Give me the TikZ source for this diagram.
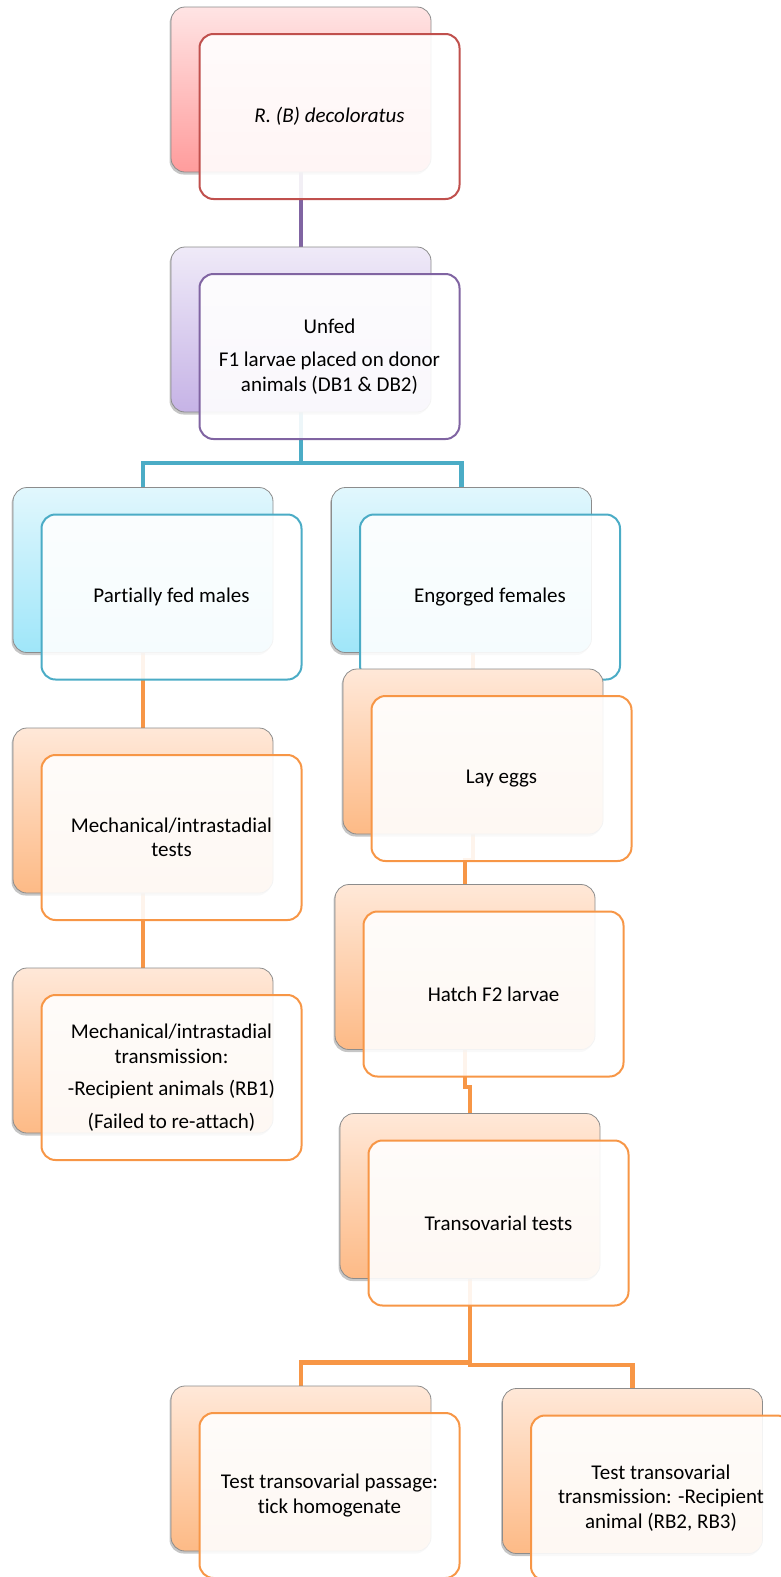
\documentclass[tikz,border=0pt]{standalone}
\usepackage{fontspec}
\setmainfont{Carlito}[Ligatures=NoCommon]
\usetikzlibrary{shadows,positioning,backgrounds}
\definecolor{redline}{HTML}{C0504D}
\definecolor{purpleline}{HTML}{8064A2}
\definecolor{tealline}{HTML}{4BACC6}
\definecolor{orangeline}{HTML}{F79646}
\definecolor{redtop}{HTML}{FFE4E4}
\definecolor{redbot}{HTML}{FF9C9C}
\definecolor{purpletop}{HTML}{EFEAF8}
\definecolor{purplebot}{HTML}{C6B3E6}
\definecolor{tealtop}{HTML}{E1F7FD}
\definecolor{tealbot}{HTML}{9FE6F9}
\definecolor{orangetop}{HTML}{FFE8D8}
\definecolor{orangebot}{HTML}{FDBA86}
\tikzset{backcard/.style 2 args={draw=black!45, line width=0.8pt, rounded corners=14pt,
    minimum width=260pt, minimum height=165pt, inner sep=0pt, top color=#1, bottom color=#2,
    drop shadow={shadow xshift=-1.5pt, shadow yshift=-2.5pt, opacity=0.45}}}
\tikzset{frontcard/.style={draw=#1, line width=2pt, rounded corners=14pt,
    minimum width=260pt, minimum height=165pt, inner sep=4pt, fill=white, fill opacity=0.9,
    text opacity=1, align=center, font=\fontsize{21}{24.5}\selectfont}}
\tikzset{linkline/.style={draw=#1, line width=4.5pt}}

\begin{document}
\begin{tikzpicture}[x=1pt, y=-1pt]
\useasboundingbox (0,0) rectangle (780,1577);
% top chain
\node[backcard={redtop}{redbot}] (b1) at (301,89.5) {};
\node[frontcard=redline] (f1) at ([shift={(28.5,27)}]b1) {\textit{R. (B) decoloratus}};
\node[backcard={purpletop}{purplebot}] (b2) at (301,329.5) {};
\node[frontcard=purpleline] (f2) at ([shift={(28.5,27)}]b2) {Unfed\\[9pt]F1 larvae placed on donor\\animals (DB1 \& DB2)};
% split
\node[backcard={tealtop}{tealbot}] (b3) at (143,570) {};
\node[frontcard=tealline] (f3) at ([shift={(28.5,27)}]b3) {Partially fed males};
\node[backcard={tealtop}{tealbot}] (b4) at (461.5,570) {};
\node[frontcard=tealline] (f4) at ([shift={(28.5,27)}]b4) {Engorged females};
% males
\node[backcard={orangetop}{orangebot}] (b5) at (143,810.5) {};
\node[frontcard=orangeline] (f5) at ([shift={(28.5,27)}]b5) {Mechanical/intrastadial\\tests};
\node[backcard={orangetop}{orangebot}] (b6) at (143,1050.5) {};
\node[frontcard=orangeline] (f6) at ([shift={(28.5,27)}]b6) {Mechanical/intrastadial\\transmission:\\[8pt]-Recipient animals (RB1)\\[8pt](Failed to re-attach)};
% females
\node[backcard={orangetop}{orangebot}] (b7) at (473,751.5) {};
\node[frontcard=orangeline] (f7) at ([shift={(28.5,27)}]b7) {Lay eggs};
\node[backcard={orangetop}{orangebot}] (b8) at (465,967) {};
\node[frontcard=orangeline] (f8) at ([shift={(28.5,27)}]b8) {Hatch F2 larvae};
\node[backcard={orangetop}{orangebot}] (b9) at (470,1196) {};
\node[frontcard=orangeline] (f9) at ([shift={(28.5,27)}]b9) {Transovarial tests};
\node[backcard={orangetop}{orangebot}] (b10) at (301,1468.5) {};
\node[frontcard=orangeline] (f10) at ([shift={(28.5,27)}]b10) {Test transovarial passage:\\tick homogenate};
\node[backcard={orangetop}{orangebot}] (b11) at (632.5,1471) {};
\node[frontcard=orangeline] (f11) at ([shift={(28.5,27)}]b11) {Test transovarial\\transmission: -Recipient\\animal (RB2, RB3)};
% connectors
\begin{scope}[on background layer]
\draw[linkline=purpleline] (b1.south) -- (b2.north);
\draw[linkline=tealline] (b2.south) |- ([yshift=24pt]b3.north) -- (b3.north);
\draw[linkline=tealline] (b2.south) |- ([yshift=24pt]b4.north) -- (b4.north);
\draw[linkline=orangeline] (b3.south) -- (b5.north);
\draw[linkline=orangeline] (b5.south) -- (b6.north);
\draw[linkline=orangeline] (b4.south) |- ([yshift=24pt]b7.north) -- (b7.north);
\draw[linkline=orangeline] (b7.south) |- ([yshift=24pt]b8.north) -- (b8.north);
\draw[linkline=orangeline] (b8.south) |- ([yshift=26pt]b9.north) -- (b9.north);
\draw[linkline=orangeline] (b9.south) |- ([yshift=23pt]b10.north) -- (b10.north);
\draw[linkline=orangeline] (b9.south) |- ([yshift=23pt]b11.north) -- (b11.north);
\end{scope}
\end{tikzpicture}
\end{document}
